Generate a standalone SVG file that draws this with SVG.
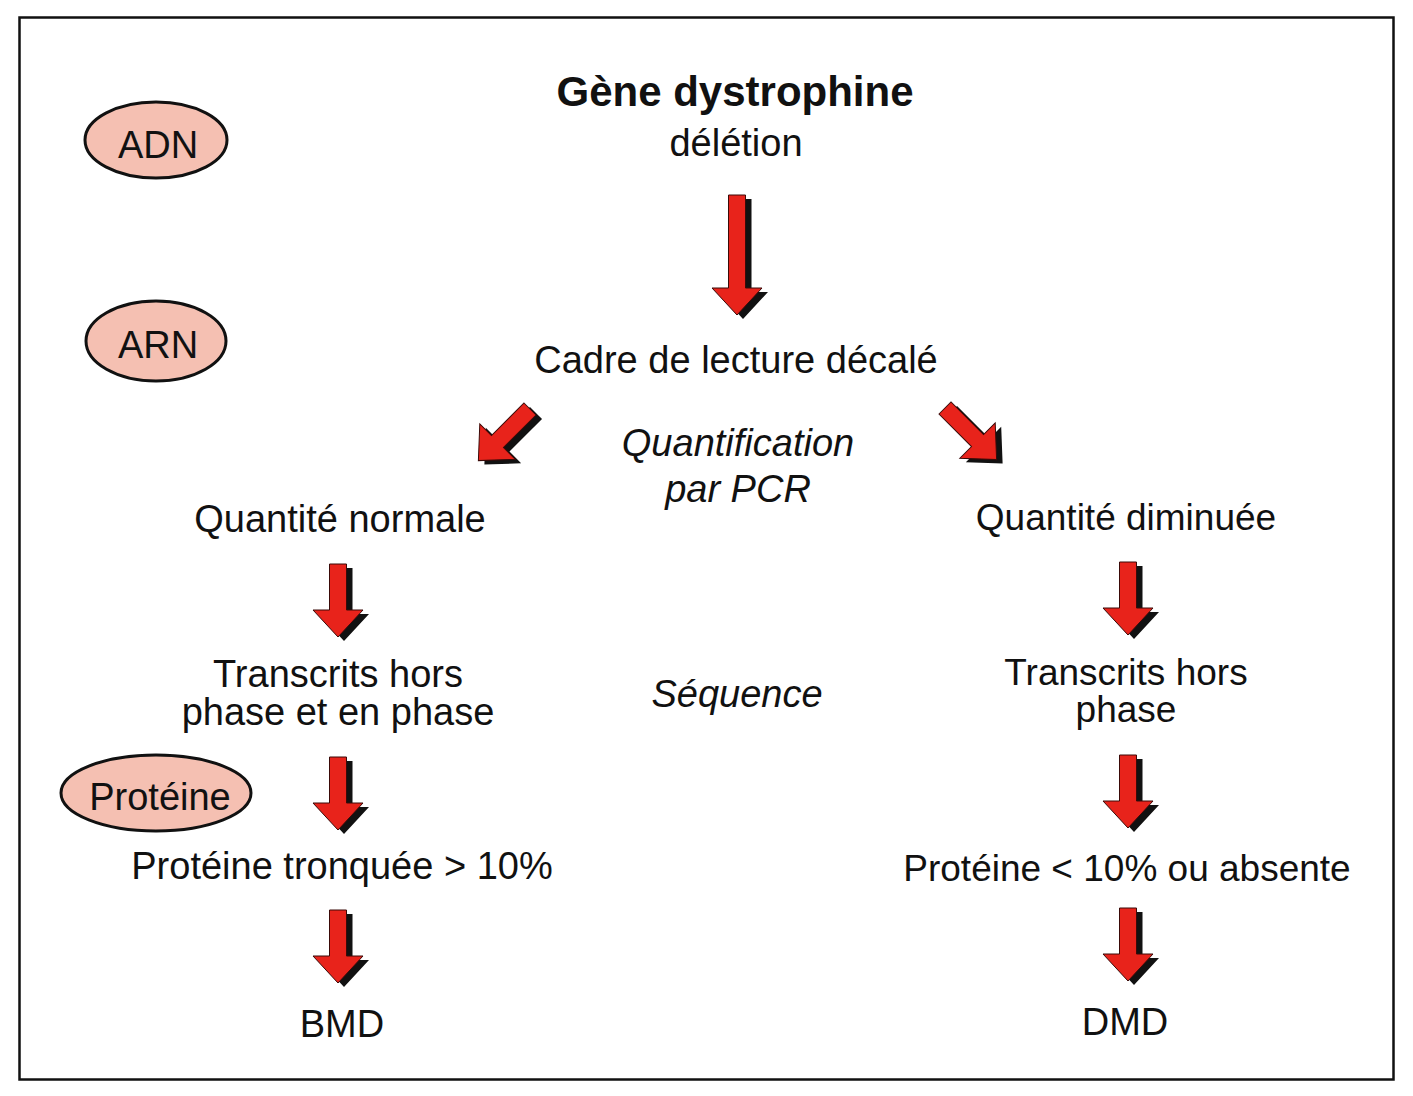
<svg xmlns="http://www.w3.org/2000/svg" xmlns:xlink="http://www.w3.org/1999/xlink" width="1413" height="1096" viewBox="0 0 1413 1096">
<style>
text{font-family:"Liberation Sans",Arial,sans-serif;fill:#111;font-size:38px;text-anchor:middle}
.r{font-size:37px}
.b{font-weight:bold;font-size:42px}
.i{font-style:italic}
.oval{fill:#f5c0b2;stroke:#111;stroke-width:3}
.sh{fill:#111}
.rd{fill:#e8231b;stroke:#3a0a08;stroke-width:1}
</style>
<defs>
<path id="aL" d="M-8.5,0 H8.5 V93 H25 L0,120 L-25,93 H-8.5 Z"/>
<path id="aS" d="M-8.5,0 H8.5 V46 H25 L0,73 L-25,46 H-8.5 Z"/>
<g id="arrL"><use xlink:href="#aL" class="sh" transform="translate(6,4)"/><use xlink:href="#aL" class="rd"/></g>
<g id="arrS"><use xlink:href="#aS" class="sh" transform="translate(6,4)"/><use xlink:href="#aS" class="rd"/></g>
</defs>
<rect x="19.5" y="17.5" width="1374" height="1062" fill="#fff" stroke="#111" stroke-width="2.5"/>

<g id="ADN"><ellipse class="oval" cx="156" cy="140" rx="71" ry="38"/><text x="158" y="158">ADN</text></g>
<g id="ARN"><ellipse class="oval" cx="156" cy="341" rx="70" ry="40"/><text x="158" y="358">ARN</text></g>
<g id="Proteine"><ellipse class="oval" cx="156" cy="793" rx="95" ry="38"/><text x="160" y="810">Protéine</text></g>

<g id="gene"><text class="b" x="735" y="106">Gène dystrophine</text><text x="736" y="156">délétion</text></g>
<g id="cadre"><text x="736" y="373">Cadre de lecture décalé</text></g>
<g id="quantif"><text class="i" x="738" y="456">Quantification</text><text class="i" x="738" y="502">par PCR</text></g>
<g id="qnormale"><text x="340" y="532">Quantité normale</text></g>
<g id="qdiminuee"><text class="r" x="1126" y="530">Quantité diminuée</text></g>
<g id="transL"><text x="338" y="687">Transcrits hors</text><text x="338" y="725">phase et en phase</text></g>
<g id="sequence"><text class="i" x="737" y="707">Séquence</text></g>
<g id="transR"><text class="r" x="1126" y="685">Transcrits hors</text><text class="r" x="1126" y="722">phase</text></g>
<g id="protL"><text x="342" y="879">Protéine tronquée &gt; 10%</text></g>
<g id="protR"><text class="r" x="1127" y="881">Protéine &lt; 10% ou absente</text></g>
<g id="BMD"><text x="342" y="1037">BMD</text></g>
<g id="DMD"><text x="1125" y="1035">DMD</text></g>

<g id="connectors">
<use xlink:href="#arrL" transform="translate(737,195)"/>
<g>
<use xlink:href="#aS" class="sh" transform="translate(536,413) rotate(45)"/>
<use xlink:href="#aS" class="rd" transform="translate(530,409) rotate(45)"/>
</g>
<g>
<use xlink:href="#aS" class="sh" transform="translate(951,412) rotate(-45)"/>
<use xlink:href="#aS" class="rd" transform="translate(945,408) rotate(-45)"/>
</g>
<use xlink:href="#arrS" transform="translate(338,564)"/>
<use xlink:href="#arrS" transform="translate(338,757)"/>
<use xlink:href="#arrS" transform="translate(338,910)"/>
<use xlink:href="#arrS" transform="translate(1128,562)"/>
<use xlink:href="#arrS" transform="translate(1128,755)"/>
<use xlink:href="#arrS" transform="translate(1128,908)"/>
</g>
</svg>
